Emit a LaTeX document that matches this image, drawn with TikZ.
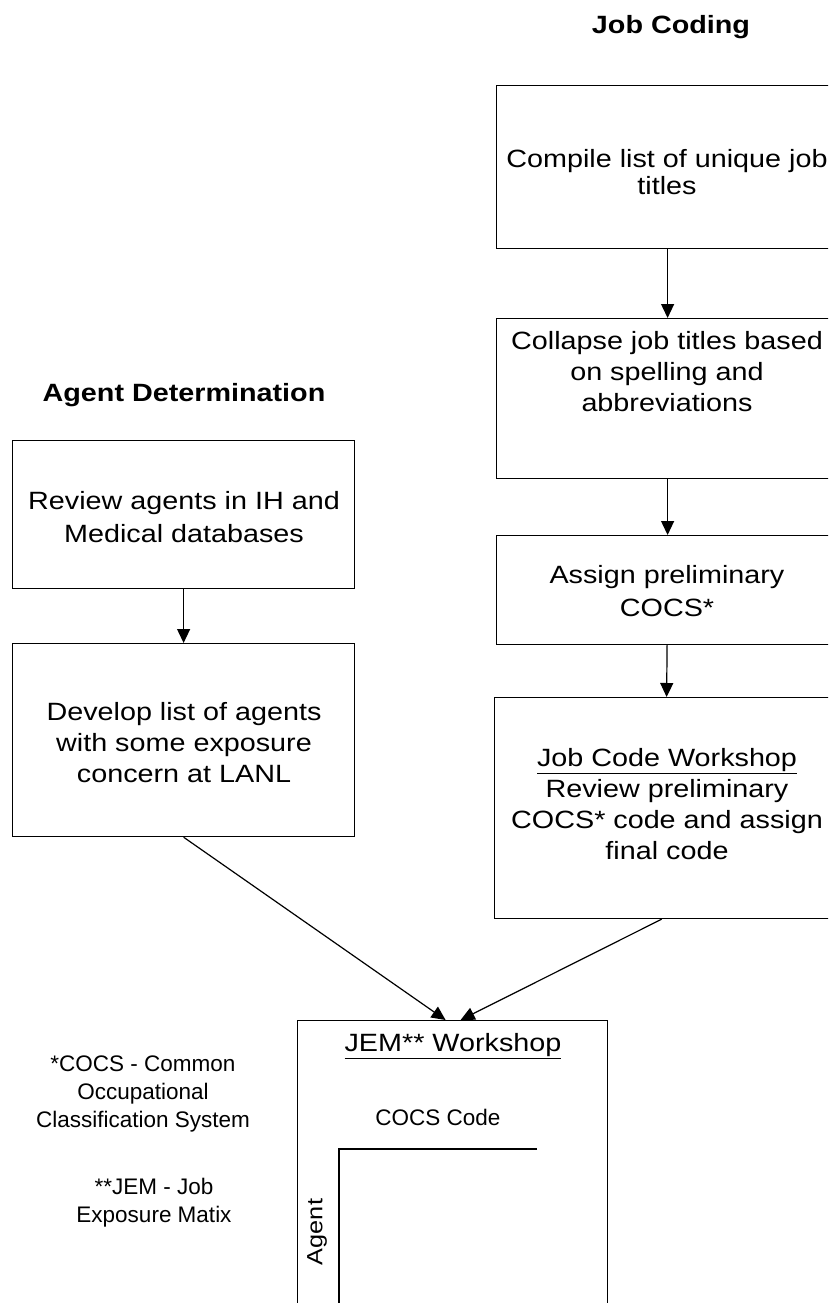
\documentclass[tikz,border=0pt]{standalone}
\usepackage{fontspec}
\setmainfont{Liberation Sans}
\newfontfamily\widefont[FakeStretch=1.15]{Liberation Sans}
\usetikzlibrary{arrows.meta,calc}

\begin{document}
\begin{tikzpicture}[x=1pt,y=-1pt,
    stage/.style={draw,line width=1.2pt,rectangle,minimum width=342pt,anchor=north west,inner sep=0pt},
    words/.style={align=center,font=\widefont\fontsize{25}{31}\selectfont,inner sep=0pt},
    heading/.style={font=\widefont\fontsize{25}{30}\selectfont\bfseries,inner sep=0pt},
    notetext/.style={align=center,font=\fontsize{22.5}{28}\selectfont,inner sep=0pt},
    arr/.style={line width=1.2pt,-{Triangle[length=14pt,width=13pt]}}]
      \useasboundingbox (0,0) rectangle (828,1303);
      \clip (0,0) rectangle (828,1303);
      % headings
      \node[heading] (jobhead) at (671,27) {Job Coding};
      \node[heading] (agenthead) at (184,395) {Agent Determination};
      % job coding column
      \node[stage,minimum height=163pt] (compile) at (496,85) {};
      \node[stage,minimum height=160pt] (collapse) at (496,318) {};
      \node[stage,minimum height=109pt] (assign) at (496,535) {};
      \node[stage,minimum height=221pt] (workshop) at (494,697) {};
      \node[words,font=\widefont\fontsize{25}{27}\selectfont] (compiletxt) at (667,172) {Compile list of unique job\\titles};
      \node[words] (collapsetxt) at (667,372) {Collapse job titles based\\on spelling and\\abbreviations};
      \node[words,font=\widefont\fontsize{25}{33}\selectfont] (assigntxt) at (667,591) {Assign preliminary\\COCS*};
      \node[words] (workshoptxt) at (667,804) {\underline{Job Code Workshop}\\Review preliminary\\COCS* code and assign\\final code};
      % agent column
      \node[stage,minimum height=148pt] (review) at (12,440) {};
      \node[stage,minimum height=193pt] (develop) at (12,643) {};
      \node[words,font=\widefont\fontsize{25}{33}\selectfont] (reviewtxt) at (184,517) {Review agents in IH and\\Medical databases};
      \node[words] (developtxt) at (184,743) {Develop list of agents\\with some exposure\\concern at LANL};
      % JEM workshop
      \node[stage,minimum width=310pt,minimum height=330pt] (jem) at (297,1020) {};
      \node[words] (jemtitle) at (453,1046) {\underline{JEM** Workshop}};
      \node[notetext] (cocscode) at (438,1117) {COCS Code};
      \node[notetext,font=\widefont\fontsize{22}{28}\selectfont,rotate=90] (agentaxis) at (317,1232) {Agent};
      \coordinate (gridend) at (537,1149);
      \coordinate (gridcorner) at (339,1149);
      \coordinate (gridfoot) at (339,1320);
      \draw[line width=1.2pt] (gridend) -- (gridcorner) -- (gridfoot);
      % footnotes
      \node[notetext] (cocsnote) at (143,1094) {*COCS - Common\\Occupational\\Classification System};
      \node[notetext] (jemnote) at (154,1203) {**JEM - Job\\Exposure Matix};
      % arrows
      \draw[arr] (compile) -- (collapse);
      \draw[arr] (collapse) -- (assign);
      \draw[arr] (assign) -- (workshop);
      \draw[arr] (review) -- (develop);
      \draw[arr] (develop.south) -- ([xshift=-7pt]jem.north);
      \draw[arr] ([xshift=-4pt]workshop.south) -- ([xshift=8pt]jem.north);
    \end{tikzpicture}
\end{document}
